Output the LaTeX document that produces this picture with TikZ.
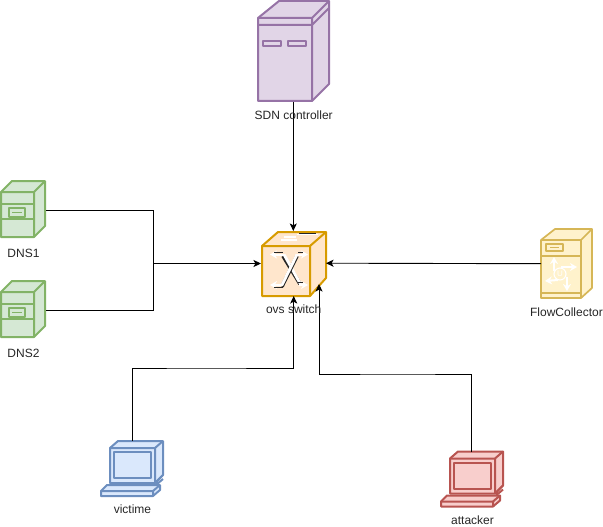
\documentclass[tikz,border=0pt]{standalone}
\usepackage{fontspec}
\setmainfont{Liberation Sans}
\usetikzlibrary{arrows.meta}
\definecolor{gf}{HTML}{D5E8D4}\definecolor{gs}{HTML}{82B366}
\definecolor{bf}{HTML}{DAE8FC}\definecolor{bs}{HTML}{6C8EBF}
\definecolor{rf}{HTML}{F8CECC}\definecolor{rs}{HTML}{B85450}
\definecolor{yf}{HTML}{FFF2CC}\definecolor{ys}{HTML}{D6B656}
\definecolor{pf}{HTML}{E1D5E7}\definecolor{ps}{HTML}{9673A6}
\definecolor{of}{HTML}{FFE6CC}\definecolor{os}{HTML}{D79B00}
\tikzset{
  lab/.style={font=\fontsize{12}{14}\selectfont, text=black!85, inner sep=0pt},
  conn/.style={draw=black, line width=0.9pt, -{Stealth[length=7.5pt,width=7pt,inset=1.8pt]}},
  plainconn/.style={draw=black, line width=0.9pt},
  icon/.style={line width=2pt, line join=round},
  thinicon/.style={line width=1.7pt, line join=round},
  whitearrow/.style={draw=white, line width=2pt, -{Stealth[length=7pt,width=8pt]}},
  darkln/.style={draw=black!85, line width=0.7pt},
  cabinet/.pic={
    \draw[icon,draw=gs,fill=gf] (1,192) -- (12,181) -- (45,181) -- (45,226) -- (34,237) -- (1,237) -- cycle;
    \draw[icon,draw=gs] (1,192) -- (34,192) -- (45,181) (34,192) -- (34,237);
    \draw[icon,draw=gs] (1,204) -- (34,204) (1,219) -- (34,219);
    \draw[thinicon,draw=gs] (9,208) rectangle (25,217);
    \draw[line width=0.8pt,draw=gs] (12,212.5) -- (22,212.5);
  },
  laptop/.pic={
    \draw[icon,draw=ls,fill=lf] (110,448) -- (118,441) -- (163,441) -- (163,475) -- (155,483) -- (110,483) -- cycle;
    \draw[icon,draw=ls] (110,448) -- (155,448) -- (163,441) (155,448) -- (155,483);
    \draw[icon,draw=ls] (114,452) rectangle (151,478);
    \draw[icon,draw=ls,fill=lf] (107,485) -- (160,485) -- (160,490) -- (153,496) -- (101,496) -- (101,491) -- cycle;
    \draw[icon,draw=ls] (101,491) -- (153,491) -- (160,485) (153,491) -- (153,496);
    \draw[icon,draw=ls] (155,483) -- (163,475) (156,485) -- (163,479);
  },
}
\begin{document}
\begin{tikzpicture}[x=1pt,y=-1pt]
\useasboundingbox (0,0) rectangle (603,527);
% SDN controller
\draw[icon,draw=ps,fill=pf] (258,18) -- (279,1) -- (329,1) -- (329,84) -- (312,101) -- (258,101) -- cycle;
\draw[icon,draw=ps] (258,18) -- (312,18) -- (329,1) (312,18) -- (312,101) (258,25) -- (312,25) -- (329,8);
\draw[thinicon,draw=ps] (263,41) rectangle (281,46);
\draw[thinicon,draw=ps] (288,41) rectangle (306,46);
% DNS
\pic at (0,0) {cabinet};
\pic at (0,100) {cabinet};
% ovs switch
\draw[icon,draw=os,fill=of] (262,246) -- (278,232) -- (326,232) -- (326,278) -- (310,296) -- (262,296) -- cycle;
\draw[icon,draw=os] (262,246) -- (310,246) -- (326,232) (310,246) -- (310,296);
\draw[draw=white,line width=1.4pt] (281,240) -- (297,240) (284,237) -- (296,237) (297,234.5) -- (318,234.5);
\draw[darkln] (299,233.5) -- (316,233.5);
\draw[draw=black!85,line width=3.6pt] (283,256) -- (300,284);
\draw[draw=white,line width=2.8pt] (284,254.5) -- (301,285);
\draw[draw=black!85,line width=3.6pt] (297,256) -- (282,286.5);
\draw[draw=white,line width=2.8pt] (297,254.5) -- (282,285);
\draw[whitearrow] (284,254.5) -- (270,254.5);
\draw[whitearrow] (296,254.5) -- (308,254.5);
\draw[whitearrow] (283,285) -- (270,285);
\draw[whitearrow] (299,285) -- (308,285);
\draw[darkln] (274,252.5) -- (283,252.5) (298,252.5) -- (303,252.5) (274,287.2) -- (283,287.2) (298,282.8) -- (303,282.8);
% FlowCollector
\draw[thinicon,draw=ys,fill=yf] (541,240) -- (555,229) -- (592,229) -- (592,288) -- (581,298) -- (541,298) -- cycle;
\draw[thinicon,draw=ys] (541,240) -- (581,240) -- (592,229) (581,240) -- (581,298) (541,256) -- (581,256) (541,293) -- (581,293);
\draw[thinicon,draw=ys] (546,244) rectangle (563,251);
\draw[line width=0.9pt,draw=ys] (550,247.5) -- (559,247.5);
\draw[whitearrow] (554,271) -- (554,257);
\draw[whitearrow] (561,267) -- (577,267);
\draw[whitearrow] (558,280) -- (545,281);
\draw[whitearrow] (567,277) -- (567,291);
\draw[draw=white,line width=1.1pt,fill=yf] (560,274) circle (6);
\node[lab,font=\fontsize{8}{8}\selectfont,text=white] (ulabel) at (560,274) {U};
% laptops
\colorlet{lf}{bf}\colorlet{ls}{bs}
\pic at (0,0) {laptop};
\colorlet{lf}{rf}\colorlet{ls}{rs}
\pic at (340,10.5) {laptop};
% anchors
\coordinate (dnsa) at (46,210.5);
\coordinate (dnsb) at (46,310.5);
\coordinate (merge) at (153,263.5);
\coordinate (swl) at (261,263.5);
\coordinate (swt) at (293.3,231);
\coordinate (swb) at (293.7,296);
\coordinate (swr) at (326,263.2);
\coordinate (swa) at (319,284);
\coordinate (sdn) at (293.3,102);
\coordinate (flow) at (541,263.7);
\coordinate (vic) at (132,441);
\coordinate (atk) at (471.2,452);
\draw[conn] (sdn) -- (swt);
\draw[plainconn] (dnsa) -| (merge);
\draw[plainconn] (dnsb) -| (merge);
\draw[conn] (merge) -- (swl);
\draw[conn] (flow) -- (swr);
\draw[conn] (vic) |- (200,368) -| (swb);
\draw[conn] (atk) |- (400,374) -| (swa);
% labels
\node[lab] (tsdn) at (293.7,115) {SDN controller};
\node[lab] (tdns1) at (23.5,253) {DNS1};
\node[lab] (tdns2) at (23.5,353) {DNS2};
\node[lab] (tsw) at (293.7,309) {ovs switch};
\node[lab] (tflow) at (566.5,312) {FlowCollector};
\node[lab] (tvic) at (132.5,509) {victime};
\node[lab] (tatk) at (472.5,520) {attacker};
\end{tikzpicture}
\end{document}
